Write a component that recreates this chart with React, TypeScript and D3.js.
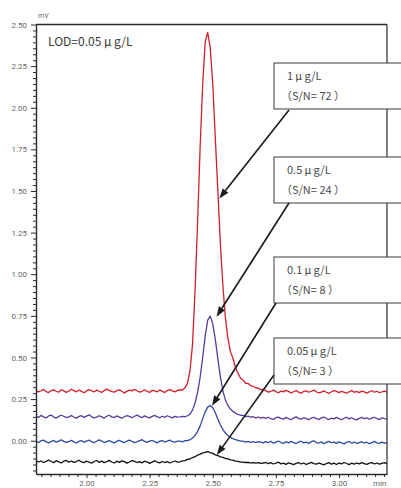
import React, { useEffect, useRef } from 'react';
import * as d3 from 'd3';

// Chromatogram traces sampled every 0.01 min from 1.80 min (mV)
const startTime = 1.8;
const sampleStep = 0.01;

const trace1ug = [
  0.303,0.293,0.300,0.308,0.295,0.289,0.301,0.305,0.297,0.291,
  0.306,0.299,0.290,0.297,0.309,0.301,0.293,0.304,0.296,0.288,
  0.299,0.307,0.300,0.293,0.304,0.297,0.290,0.301,0.310,0.302,
  0.295,0.292,0.301,0.306,0.297,0.287,0.296,0.304,0.299,0.308,
  0.300,0.292,0.297,0.306,0.296,0.290,0.303,0.299,0.294,0.305,
  0.297,0.289,0.301,0.307,0.299,0.293,0.302,
  0.306,0.304,0.318,0.344,0.423,0.580,0.905,1.316,1.764,2.136,
  2.394,2.452,2.359,2.144,1.819,1.505,1.186,0.934,0.739,0.615,
  0.535,0.494,0.440,0.405,0.375,0.365,0.345,0.344,0.330,0.327,
  0.318,0.316,0.306,0.309,
  0.301,0.292,0.297,0.304,0.295,0.288,0.298,0.293,0.302,0.296,
  0.287,0.294,0.301,0.292,0.286,0.296,0.299,0.291,0.297,0.304,
  0.294,0.287,0.292,0.299,0.291,0.284,0.294,0.301,0.296,0.289,
  0.297,0.292,0.285,0.294,0.301,0.291,0.296,0.289,0.298,0.293,
  0.286,0.294,0.300,0.291,0.297,0.288,0.294,0.298,0.291,
];

const trace05ug = [
  0.148,0.140,0.152,0.143,0.137,0.149,0.154,0.142,0.136,0.146,
  0.153,0.147,0.139,0.143,0.151,0.141,0.135,0.146,0.150,0.140,
  0.148,0.155,0.145,0.137,0.142,0.150,0.143,0.136,0.147,0.153,
  0.143,0.139,0.149,0.142,0.135,0.144,0.151,0.146,0.138,0.147,
  0.154,0.145,0.139,0.149,0.142,0.137,0.146,0.152,0.143,0.138,
  0.147,0.141,0.150,0.144,0.137,0.146,0.142,
  0.143,0.146,0.144,0.150,0.160,0.185,0.228,0.292,0.380,0.500,
  0.628,0.724,0.748,0.702,0.610,0.495,0.385,0.300,0.245,0.212,
  0.190,0.176,0.166,0.158,0.153,0.152,0.145,0.148,0.141,0.144,
  0.137,0.142,0.135,0.140,
  0.134,0.141,0.132,0.128,0.138,0.142,0.134,0.129,0.140,0.133,
  0.127,0.136,0.143,0.134,0.129,0.138,0.132,0.126,0.135,0.141,
  0.133,0.128,0.137,0.142,0.133,0.127,0.136,0.131,0.140,0.133,
  0.126,0.135,0.141,0.131,0.138,0.130,0.125,0.134,0.140,0.132,
  0.137,0.129,0.135,0.141,0.132,0.127,0.137,0.133,0.130,
];

const trace01ug = [
  -0.003,-0.011,-0.001,0.004,-0.007,-0.013,-0.005,0.002,-0.009,-0.002,
  0.005,-0.004,-0.010,-0.006,0.002,-0.007,-0.014,-0.004,0.001,-0.009,
  -0.002,0.004,-0.006,-0.012,-0.003,0.005,-0.002,-0.011,-0.005,0.001,
  -0.007,-0.013,-0.003,0.002,-0.006,-0.012,-0.002,0.004,-0.004,-0.011,
  -0.007,0.000,0.006,-0.004,-0.010,-0.002,0.002,-0.006,-0.013,-0.003,
  0.001,-0.008,-0.002,0.004,-0.006,-0.009,-0.003,
  -0.002,-0.007,0.000,0.000,0.006,0.016,0.032,0.056,0.089,0.131,
  0.173,0.202,0.211,0.198,0.168,0.130,0.096,0.068,0.046,0.031,
  0.020,0.012,0.006,0.002,-0.003,-0.002,-0.008,-0.004,-0.010,-0.006,
  -0.011,-0.005,-0.009,-0.013,
  -0.006,-0.012,-0.003,-0.015,-0.008,-0.002,-0.011,-0.016,-0.006,-0.013,
  -0.004,-0.011,-0.017,-0.008,-0.003,-0.013,-0.009,-0.016,-0.006,-0.001,
  -0.011,-0.014,-0.007,-0.018,-0.010,-0.004,-0.012,-0.008,-0.016,-0.007,
  -0.013,-0.019,-0.009,-0.005,-0.014,-0.008,-0.017,-0.011,-0.006,-0.015,
  -0.009,-0.018,-0.011,-0.004,-0.013,-0.016,-0.009,-0.015,-0.011,
];

const trace005ug = [
  -0.120,-0.128,-0.122,-0.131,-0.124,-0.116,-0.125,-0.132,-0.120,-0.127,
  -0.133,-0.123,-0.118,-0.129,-0.122,-0.130,-0.125,-0.117,-0.127,-0.132,
  -0.123,-0.128,-0.135,-0.125,-0.119,-0.130,-0.123,-0.132,-0.126,-0.118,
  -0.128,-0.134,-0.123,-0.130,-0.121,-0.126,-0.135,-0.128,-0.119,-0.124,
  -0.131,-0.126,-0.133,-0.123,-0.128,-0.136,-0.129,-0.121,-0.128,-0.133,
  -0.125,-0.131,-0.126,-0.134,-0.128,-0.122,-0.129,
  -0.127,-0.121,-0.120,-0.112,-0.110,-0.101,-0.096,-0.086,-0.081,-0.073,
  -0.070,-0.065,-0.071,-0.076,-0.085,-0.089,-0.097,-0.100,-0.107,-0.109,
  -0.115,-0.117,-0.123,-0.124,-0.129,-0.129,-0.131,-0.131,-0.133,-0.132,
  -0.135,-0.132,-0.136,-0.134,
  -0.131,-0.138,-0.132,-0.140,-0.134,-0.129,-0.139,-0.135,-0.142,-0.133,
  -0.138,-0.144,-0.136,-0.131,-0.140,-0.134,-0.143,-0.136,-0.130,-0.138,
  -0.141,-0.134,-0.139,-0.145,-0.137,-0.132,-0.141,-0.135,-0.143,-0.134,
  -0.139,-0.131,-0.137,-0.144,-0.135,-0.141,-0.134,-0.139,-0.132,-0.138,
  -0.142,-0.135,-0.131,-0.140,-0.134,-0.141,-0.136,-0.132,-0.139,
];

const seriesColors = ['#d01f2b', '#5a3a9f', '#2d4aa6', '#111111'];
const seriesValues = [trace1ug, trace05ug, trace01ug, trace005ug];

// Annotation labels and where each arrow points (time, mV)
const concLabels = ['1\u2009\u03bc\u2009g/L', '0.5\u2009\u03bc\u2009g/L', '0.1\u2009\u03bc\u2009g/L', '0.05\u2009\u03bc\u2009g/L'];
const snValues = [72, 24, 8, 3];
const arrowTipTime = [2.526, 2.515, 2.497, 2.516];
const arrowTipValue = [1.455, 0.745, 0.21, -0.086];

const yMajorTicks = [0, 0.25, 0.5, 0.75, 1.0, 1.25, 1.5, 1.75, 2.0, 2.25, 2.5];
const xMajorTicks = [2.0, 2.25, 2.5, 2.75, 3.0];

const W = 401;
const H = 488;
const plot = { left: 36, right: 387, top: 24.5, bottom: 474 };

// Label box layout (pixels)
const boxLeft = 274;
const boxTops = [63, 157, 257, 338];
const boxHeight = 46;
const arrowStarts: [number, number][] = [[289, 110], [289, 203], [276, 303], [274, 375]];

const x = d3.scaleLinear().domain([1.8, 3.19]).range([plot.left, plot.right]);
const y = d3.scaleLinear().domain([-0.2, 2.5]).range([plot.bottom, plot.top]);

const traceLine = d3
  .line<number>()
  .x((_, i) => x(startTime + i * sampleStep))
  .y((v) => y(v))
  .curve(d3.curveLinear);

function minorTicks(lo: number, hi: number, step: number, sub: number) {
  const out: number[] = [];
  const first = Math.ceil(lo / step) * step - step;
  for (let m = first; m <= hi + 1e-9; m += step) {
    for (let k = 1; k < sub; k++) {
      const v = m + (k * step) / sub;
      if (v >= lo - 1e-9 && v <= hi + 1e-9) out.push(v);
    }
  }
  return out;
}

const yMinor = minorTicks(-0.2, 2.5, 0.25, 7);
const xMinor = minorTicks(1.8, 3.19, 0.25, 7);

const tickFont = 'Roboto, "Noto Sans", sans-serif';
const jpFont = '"Noto Sans CJK JP", "Noto Sans", sans-serif';

function arrowHead(sx: number, sy: number, tx: number, ty: number) {
  const dx = tx - sx;
  const dy = ty - sy;
  const len = Math.hypot(dx, dy);
  const ux = dx / len;
  const uy = dy / len;
  const L = 10;
  const hw = 3.6;
  const bx = tx - ux * L;
  const by = ty - uy * L;
  return {
    pts: `${tx},${ty} ${bx - uy * hw},${by + ux * hw} ${bx + uy * hw},${by - ux * hw}`,
    bx,
    by,
  };
}

export default function App() {
  const yAxisRef = useRef<SVGGElement>(null);
  const yMinorRef = useRef<SVGGElement>(null);
  const xAxisRef = useRef<SVGGElement>(null);
  const xMinorRef = useRef<SVGGElement>(null);

  useEffect(() => {
    const styleAxis = (g: d3.Selection<SVGGElement, unknown, null, undefined>) => {
      g.select('.domain').attr('stroke', '#2a2a2a').attr('stroke-width', 1.4);
      g.selectAll('.tick line').attr('stroke', '#2a2a2a').attr('stroke-width', 1);
      g.selectAll('.tick text')
        .attr('fill', '#666')
        .style('font-family', tickFont)
        .style('font-size', '8px');
    };
    const gy = d3.select(yAxisRef.current!);
    gy.call(
      d3.axisLeft(y).tickValues(yMajorTicks).tickSize(5).tickSizeOuter(0).tickPadding(4)
        .tickFormat(d3.format('.2f'))
    );
    styleAxis(gy);
    const gym = d3.select(yMinorRef.current!);
    gym.call(d3.axisLeft(y).tickValues(yMinor).tickSize(3).tickSizeOuter(0).tickFormat(() => ''));
    gym.select('.domain').remove();
    gym.selectAll('.tick line').attr('stroke', '#2a2a2a');

    const gx = d3.select(xAxisRef.current!);
    gx.call(
      d3.axisBottom(x).tickValues(xMajorTicks).tickSize(4).tickSizeOuter(0).tickPadding(2.5)
        .tickFormat(d3.format('.2f'))
    );
    styleAxis(gx);
    const gxm = d3.select(xMinorRef.current!);
    gxm.call(d3.axisBottom(x).tickValues(xMinor).tickSize(3).tickSizeOuter(0).tickFormat(() => ''));
    gxm.select('.domain').remove();
    gxm.selectAll('.tick line').attr('stroke', '#2a2a2a');
  }, []);

  return (
    <svg
      width={W}
      height={H}
      style={{ position: 'absolute', left: 0, top: 0, background: '#fff' }}
    >
      {seriesValues.map((vals, i) => (
        <path
          key={i}
          d={traceLine(vals) ?? ''}
          fill="none"
          stroke={seriesColors[i]}
          strokeWidth={1.3}
          strokeLinejoin="round"
        />
      ))}

      {/* frame */}
      <line x1={plot.left} x2={plot.right} y1={plot.top} y2={plot.top} stroke="#2a2a2a" strokeWidth={1.6} />
      <line x1={plot.right} x2={plot.right} y1={plot.top} y2={plot.bottom} stroke="#2a2a2a" strokeWidth={1.2} />

      <g ref={yMinorRef} transform={`translate(${plot.left},0)`} />
      <g ref={yAxisRef} transform={`translate(${plot.left},0)`} />
      <g ref={xMinorRef} transform={`translate(0,${plot.bottom})`} />
      <g ref={xAxisRef} transform={`translate(0,${plot.bottom})`} />

      <text x={38} y={18} fontFamily={tickFont} fontSize={7} fill="#666">mV</text>
      <text x={373} y={486} fontFamily={tickFont} fontSize={8} fill="#666">min</text>

      <text x={48} y={46} fontFamily={jpFont} fontSize={12} fill="#3a3a3a">
        {'LOD=0.05 \u03bc\u2009g/L'}
      </text>

      {concLabels.map((lab, i) => {
        const top = boxTops[i];
        const [sx, sy] = arrowStarts[i];
        const tx = x(arrowTipTime[i]);
        const ty = y(arrowTipValue[i]);
        const head = arrowHead(sx, sy, tx, ty);
        return (
          <g key={lab}>
            <rect
              x={boxLeft}
              y={top}
              width={140}
              height={boxHeight}
              fill="#fff"
              stroke="#3a3a3a"
              strokeWidth={1}
            />
            <text x={287} y={top + 17} fontFamily={jpFont} fontSize={11} fill="#4a4a4a">
              {lab}
            </text>
            <text x={281} y={top + 37} fontFamily={jpFont} fontSize={11} fill="#4a4a4a">
              {`\uff08S/N= ${snValues[i]} \uff09`}
            </text>
            <line x1={sx} y1={sy} x2={head.bx} y2={head.by} stroke="#1a1a1a" strokeWidth={1.6} />
            <polygon points={head.pts} fill="#1a1a1a" />
          </g>
        );
      })}
    </svg>
  );
}
